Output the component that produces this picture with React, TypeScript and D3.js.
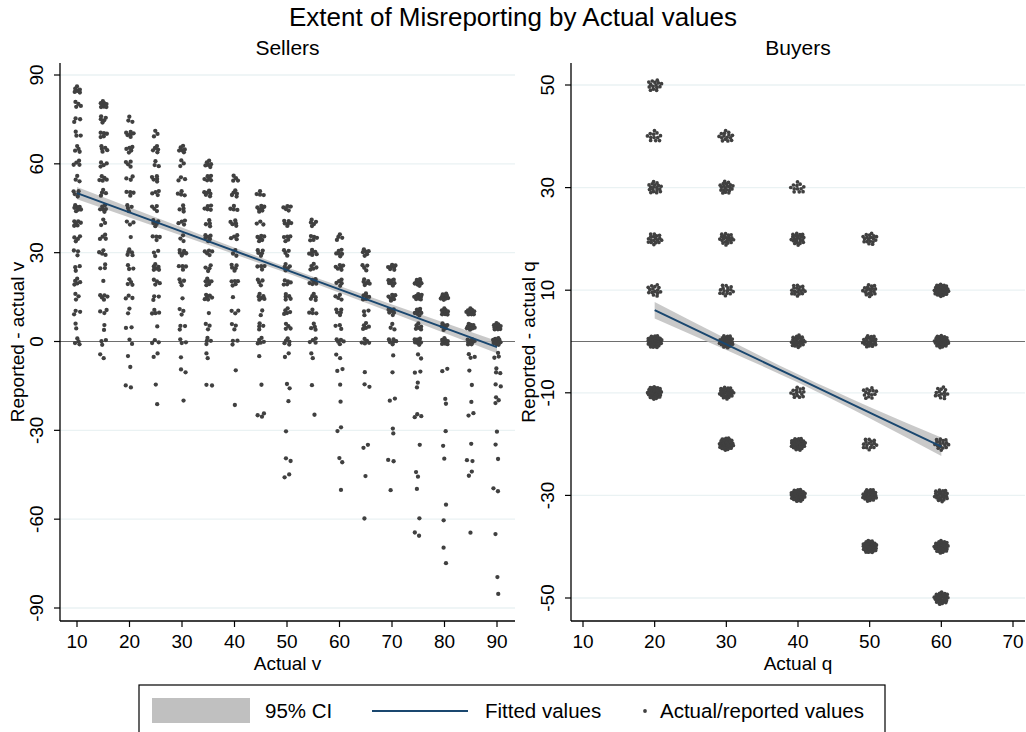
import React from 'react';
import * as d3 from 'd3';

// ---------------- DATA ----------------
const sellerX = [10, 15, 20, 25, 30, 35, 40, 45, 50, 55, 60, 65, 70, 75, 80, 85, 90];
// number of observations at reported - actual = 0, 5, 10, ... (one row per actual v)
const sellerPosCounts = [
  [4, 2, 3, 3, 5, 3, 3, 4, 6, 7, 5, 3, 4, 4, 3, 3, 4, 6],
  [3, 2, 3, 5, 1, 3, 4, 4, 3, 6, 4, 5, 4, 5, 5, 5, 8],
  [2, 2, 2, 3, 4, 3, 5, 1, 3, 4, 4, 3, 4, 5, 6, 3],
  [3, 1, 4, 3, 4, 6, 3, 4, 5, 4, 4, 5, 3, 5, 3],
  [3, 3, 3, 1, 4, 4, 6, 3, 4, 4, 4, 3, 3, 6],
  [4, 3, 1, 6, 6, 4, 5, 6, 4, 5, 6, 6, 6],
  [3, 3, 3, 1, 5, 5, 3, 4, 5, 4, 5, 4],
  [5, 4, 2, 6, 4, 4, 5, 6, 3, 7, 4],
  [5, 4, 5, 5, 5, 5, 4, 5, 6, 5],
  [4, 4, 4, 5, 6, 5, 6, 5, 5],
  [5, 3, 5, 4, 5, 6, 6, 4],
  [5, 5, 3, 6, 6, 4, 6],
  [6, 3, 6, 7, 7, 7],
  [8, 6, 8, 9, 9],
  [8, 6, 9, 10],
  [8, 10, 12],
  [14, 12],
];
// under-reporting observations: [actual v, reported - actual, count]
const sellerNeg: [number, number, number][] = [
  [15, -5, 2],
  [20, -5, 1], [20, -9, 1], [20, -15, 2],
  [25, -5, 2], [25, -15, 1], [25, -21, 1],
  [30, -5, 1], [30, -10, 2], [30, -20, 1],
  [35, -5, 2], [35, -15, 2],
  [40, -10, 1], [40, -21, 1],
  [45, -5, 1], [45, -15, 1], [45, -25, 3],
  [50, -5, 2], [50, -15, 2], [50, -20, 1], [50, -30, 1], [50, -40, 2], [50, -45, 2],
  [55, -5, 2], [55, -15, 1], [55, -25, 1],
  [60, -5, 2], [60, -10, 2], [60, -15, 1], [60, -20, 1], [60, -30, 2], [60, -40, 2], [60, -50, 1],
  [65, -10, 1], [65, -15, 2], [65, -35, 2], [65, -45, 1], [65, -60, 1],
  [70, -5, 1], [70, -10, 1], [70, -20, 2], [70, -30, 2], [70, -40, 2], [70, -50, 1],
  [75, -5, 2], [75, -10, 2], [75, -15, 2], [75, -25, 3], [75, -35, 1], [75, -45, 2], [75, -50, 1], [75, -60, 1], [75, -65, 2],
  [80, -10, 2], [80, -20, 2], [80, -30, 1], [80, -35, 1], [80, -40, 1], [80, -55, 1], [80, -60, 1], [80, -70, 1], [80, -75, 1],
  [85, -5, 3], [85, -10, 1], [85, -15, 1], [85, -20, 1], [85, -25, 2], [85, -35, 1], [85, -40, 2], [85, -45, 2], [85, -65, 1],
  [90, -5, 3], [90, -10, 3], [90, -15, 2], [90, -20, 3], [90, -30, 1], [90, -35, 1], [90, -40, 1], [90, -50, 2], [90, -65, 1], [90, -80, 1], [90, -85, 1],
];
const sellerFitX = [10, 30, 50, 70, 90];
const sellerFitY = [50.1, 37.1, 24.1, 11.1, -1.9];
const sellerCiHalf = [2.1, 1.4, 1.0, 1.4, 2.1];
const sellerXTicks = [10, 20, 30, 40, 50, 60, 70, 80, 90];
const sellerYTicks = [90, 60, 30, 0, -30, -60, -90];

const buyerX = [20, 30, 40, 50, 60];
const buyerLevels = [50, 40, 30, 20, 10, 0, -10, -20, -30, -40, -50];
const buyerCounts = [
  [15, 12, 18, 18, 15, 45, 45, 0, 0, 0, 0],
  [0, 15, 20, 20, 15, 32, 28, 45, 0, 0, 0],
  [0, 0, 12, 22, 18, 26, 15, 38, 45, 0, 0],
  [0, 0, 0, 18, 18, 24, 14, 16, 32, 45, 0],
  [0, 0, 0, 0, 45, 38, 14, 18, 24, 38, 32],
];
const buyerFitX = [20, 30, 40, 50, 60];
const buyerFitY = [6.1, -0.55, -7.2, -13.85, -20.5];
const buyerCiHalf = [1.6, 1.1, 0.8, 1.1, 1.8];
const buyerXTicks = [10, 20, 30, 40, 50, 60, 70];
const buyerYTicks = [50, 30, 10, -10, -30, -50];

// ---------------- STYLE ----------------
const FONT = "'Liberation Sans', Arial, sans-serif";
const PT_COLOR = '#404040';
const FIT_COLOR = '#1a476f';
const CI_COLOR = '#c0c0c0';
const GRID_COLOR = '#eaf2f3';

type Cluster = { x: number; y: number; n: number };

function jitterPoints(clusters: Cluster[], sx: any, sy: any, rx: number, ry: number) {
  const pts: { cx: number; cy: number }[] = [];
  clusters.forEach((c, k) => {
    const phase = k * 1.93;
    for (let i = 0; i < c.n; i++) {
      const r = c.n === 1 ? 0.35 : Math.sqrt((i + 0.5) / c.n);
      const th = i * 2.39996 + phase;
      pts.push({ cx: sx(c.x) + r * rx * Math.cos(th), cy: sy(c.y) + r * ry * Math.sin(th) });
    }
  });
  return pts;
}

type PanelProps = {
  title: string;
  xTitle: string;
  yTitle: string;
  left: number;
  right: number;
  top: number;
  bottom: number;
  sx: any;
  sy: any;
  xTicks: number[];
  yTicks: number[];
  clusters: Cluster[];
  rx: number;
  ry: number;
  dotR: number;
  fitX: number[];
  fitY: number[];
  ciHalf: number[];
};

function Panel(p: PanelProps) {
  const pts = jitterPoints(p.clusters, p.sx, p.sy, p.rx, p.ry);
  const fitData = p.fitX.map((x, i) => ({ x, y: p.fitY[i], h: p.ciHalf[i] }));
  const area = d3
    .area<any>()
    .x((d) => p.sx(d.x))
    .y0((d) => p.sy(d.y - d.h))
    .y1((d) => p.sy(d.y + d.h))
    .curve(d3.curveMonotoneX);
  const line = d3
    .line<any>()
    .x((d) => p.sx(d.x))
    .y((d) => p.sy(d.y));
  const cx = (p.left + p.right) / 2;
  const cy = (p.top + p.bottom) / 2;
  return (
    <g>
      {p.yTicks
        .filter((t) => t !== 0)
        .map((t) => (
          <line key={'g' + t} x1={p.left} x2={p.right} y1={p.sy(t)} y2={p.sy(t)} stroke={GRID_COLOR} strokeWidth={1.3} />
        ))}
      <line x1={p.left} x2={p.right} y1={p.sy(0)} y2={p.sy(0)} stroke="#6e6e6e" strokeWidth={1.2} />
      <path d={area(fitData) || ''} fill={CI_COLOR} fillOpacity={0.85} />
      {pts.map((d, i) => (
        <circle key={i} cx={d.cx} cy={d.cy} r={p.dotR} fill={PT_COLOR} />
      ))}
      <path d={line(fitData) || ''} fill="none" stroke={FIT_COLOR} strokeWidth={2} />
      {/* axes */}
      <line x1={p.left} x2={p.left} y1={p.top} y2={p.bottom} stroke="#000" strokeWidth={1.3} />
      <line x1={p.left} x2={p.right} y1={p.bottom} y2={p.bottom} stroke="#000" strokeWidth={1.3} />
      {p.yTicks.map((t) => (
        <g key={'yt' + t}>
          <line x1={p.left - 6} x2={p.left} y1={p.sy(t)} y2={p.sy(t)} stroke="#000" strokeWidth={1.2} />
          <text
            transform={`translate(${p.left - 17},${p.sy(t)}) rotate(-90)`}
            textAnchor="middle"
            fontSize={19}
            fontFamily={FONT}
            fill="#000"
          >
            {t}
          </text>
        </g>
      ))}
      {p.xTicks.map((t) => (
        <g key={'xt' + t}>
          <line x1={p.sx(t)} x2={p.sx(t)} y1={p.bottom} y2={p.bottom + 6} stroke="#000" strokeWidth={1.2} />
          <text x={p.sx(t)} y={p.bottom + 27} textAnchor="middle" fontSize={19} fontFamily={FONT} fill="#000">
            {t}
          </text>
        </g>
      ))}
      <text x={cx} y={p.bottom + 49} textAnchor="middle" fontSize={19} fontFamily={FONT} fill="#000">
        {p.xTitle}
      </text>
      <text
        transform={`translate(${p.left - 36},${cy}) rotate(-90)`}
        textAnchor="middle"
        fontSize={19}
        fontFamily={FONT}
        fill="#000"
      >
        {p.yTitle}
      </text>
      <text x={cx} y={p.top - 8} textAnchor="middle" fontSize={21} fontFamily={FONT} fill="#000">
        {p.title}
      </text>
    </g>
  );
}

export default function App() {
  const W = 1026;
  const H = 732;
  const top = 63;
  const bottom = 621;

  // Sellers panel
  const sL = { left: 60, right: 515 };
  const sx1 = d3.scaleLinear().domain([10, 90]).range([77, 497]);
  const sy1 = d3.scaleLinear().domain([90, -90]).range([75, 608]);
  const sellerClusters: Cluster[] = [];
  sellerX.forEach((x, i) => {
    sellerPosCounts[i].forEach((n, j) => {
      if (n > 0) sellerClusters.push({ x, y: j * 5, n });
    });
  });
  sellerNeg.forEach(([x, y, n]) => sellerClusters.push({ x, y, n }));

  // Buyers panel
  const bL = { left: 571, right: 1025 };
  const sx2 = d3.scaleLinear().domain([10, 70]).range([583, 1013]);
  const sy2 = d3.scaleLinear().domain([50, -50]).range([85, 598]);
  const buyerClusters: Cluster[] = [];
  buyerX.forEach((x, i) => {
    buyerLevels.forEach((y, j) => {
      const n = buyerCounts[i][j];
      if (n > 0) buyerClusters.push({ x, y, n });
    });
  });

  const legendY = 711;
  return (
    <svg width={W} height={H} style={{ position: 'absolute', left: 0, top: 0, background: '#fff' }}>
      <rect x={0} y={0} width={W} height={H} fill="#fff" />
      <text x={513} y={26} textAnchor="middle" fontSize={26} fontFamily={FONT} fill="#000">
        Extent of Misreporting by Actual values
      </text>
      <Panel
        title="Sellers"
        xTitle="Actual v"
        yTitle="Reported - actual v"
        left={sL.left}
        right={sL.right}
        top={top}
        bottom={bottom}
        sx={sx1}
        sy={sy1}
        xTicks={sellerXTicks}
        yTicks={sellerYTicks}
        clusters={sellerClusters}
        rx={4.4}
        ry={3.8}
        dotR={2.15}
        fitX={sellerFitX}
        fitY={sellerFitY}
        ciHalf={sellerCiHalf}
      />
      <Panel
        title="Buyers"
        xTitle="Actual q"
        yTitle="Reported - actual q"
        left={bL.left}
        right={bL.right}
        top={top}
        bottom={bottom}
        sx={sx2}
        sy={sy2}
        xTicks={buyerXTicks}
        yTicks={buyerYTicks}
        clusters={buyerClusters}
        rx={7.4}
        ry={6.4}
        dotR={1.85}
        fitX={buyerFitX}
        fitY={buyerFitY}
        ciHalf={buyerCiHalf}
      />
      {/* legend */}
      <rect x={139} y={685} width={746} height={60} fill="#fff" stroke="#000" strokeWidth={1.2} />
      <rect x={152} y={698} width={98} height={25} fill={CI_COLOR} />
      <text x={265} y={legendY + 7} fontSize={20.5} fontFamily={FONT} fill="#000">
        95% CI
      </text>
      <line x1={372} x2={468} y1={legendY} y2={legendY} stroke={FIT_COLOR} strokeWidth={2} />
      <text x={485} y={legendY + 7} fontSize={20.5} fontFamily={FONT} fill="#000">
        Fitted values
      </text>
      <circle cx={645} cy={legendY} r={1.9} fill={PT_COLOR} />
      <text x={660} y={legendY + 7} fontSize={20.5} fontFamily={FONT} fill="#000">
        Actual/reported values
      </text>
    </svg>
  );
}
